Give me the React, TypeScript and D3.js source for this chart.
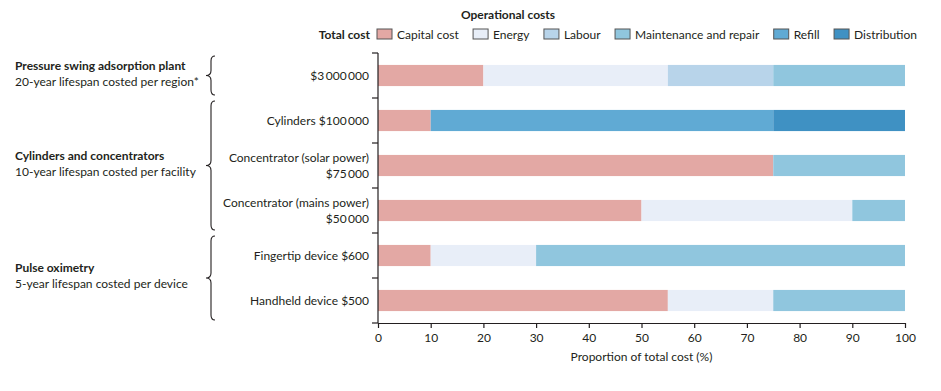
import { useEffect, useRef } from "react";
import * as d3 from "d3";

const categories = [
  ["$3\u2009000\u2009000"],
  ["Cylinders $100\u2009000"],
  ["Concentrator (solar power)", "$75\u2009000"],
  ["Concentrator (mains power)", "$50\u2009000"],
  ["Fingertip device $600"],
  ["Handheld device $500"],
];

const seriesNames = ["Capital cost", "Energy", "Labour", "Maintenance and repair", "Refill", "Distribution"];
const seriesColors = ["#e3a8a4", "#e8eef8", "#b8d4ea", "#90c6de", "#60aad4", "#3f91c3"];

// percentage share of each cost per row
const capital = [20, 10, 75, 50, 10, 55];
const energy = [35, 0, 0, 40, 20, 20];
const labour = [20, 0, 0, 0, 0, 0];
const maintenance = [25, 0, 25, 10, 70, 25];
const refill = [0, 65, 0, 0, 0, 0];
const distribution = [0, 25, 0, 0, 0, 0];

const xTicks = [0, 10, 20, 30, 40, 50, 60, 70, 80, 90, 100];

const groups = [
  { title: "Pressure swing adsorption plant", sub: "20-year lifespan costed per region*", from: 0, to: 0 },
  { title: "Cylinders and concentrators", sub: "10-year lifespan costed per facility", from: 1, to: 3 },
  { title: "Pulse oximetry", sub: "5-year lifespan costed per device", from: 4, to: 5 },
];

const App = () => {
  const svgRef = useRef(null);
  const width = 941;
  const height = 391;

  useEffect(() => {
    const svg = d3.select(svgRef.current);
    svg.selectAll("*").remove();
    const font = "Lato, 'Open Sans', sans-serif";
    const ink = "#231f20";

    const x = d3.scaleLinear().domain([0, 100]).range([378, 905]);
    const y = d3.scaleBand<number>()
      .domain(d3.range(categories.length))
      .range([53, 323])
      .paddingInner(0.53)
      .paddingOuter(0.265);

    const rows = categories.map((_, i) => ({
      [seriesNames[0]]: capital[i],
      [seriesNames[1]]: energy[i],
      [seriesNames[2]]: labour[i],
      [seriesNames[3]]: maintenance[i],
      [seriesNames[4]]: refill[i],
      [seriesNames[5]]: distribution[i],
    }));
    const stacked = d3.stack().keys(seriesNames)(rows as any);

    const g = svg.append("g");
    stacked.forEach((layer, k) => {
      g.append("g")
        .selectAll("rect")
        .data(layer.map((d, i) => ({ d, i })).filter(e => e.d[1] - e.d[0] > 0))
        .enter()
        .append("rect")
        .attr("x", e => x(e.d[0]))
        .attr("width", e => x(e.d[1]) - x(e.d[0]))
        .attr("y", e => y(e.i)!)
        .attr("height", y.bandwidth())
        .attr("fill", seriesColors[k]);
    });

    // y axis, ticks sit on the band boundaries
    const step = y.step();
    const yAxis = svg.append("g");
    yAxis.append("line")
      .attr("x1", 378).attr("x2", 378)
      .attr("y1", 53).attr("y2", 323)
      .attr("stroke", ink).attr("stroke-width", 1.2);
    d3.range(categories.length + 1).forEach(i => {
      const yy = 53 + i * step;
      yAxis.append("line")
        .attr("x1", 372).attr("x2", 378)
        .attr("y1", yy).attr("y2", yy)
        .attr("stroke", ink).attr("stroke-width", 1.2);
    });

    categories.forEach((lines, i) => {
      const cy = y(i)! + y.bandwidth() / 2;
      const t = svg.append("text")
        .attr("text-anchor", "end")
        .attr("font-family", font)
        .attr("font-size", 12)
        .attr("fill", ink);
      lines.forEach((ln, j) => {
        t.append("tspan")
          .attr("x", 369)
          .attr("y", cy + 4 + (j - (lines.length - 1) / 2) * 16)
          .text(ln);
      });
    });

    // x axis
    const xAxis = svg.append("g").attr("transform", "translate(0,323)")
      .call(d3.axisBottom(x).tickValues(xTicks).tickSize(5).tickSizeOuter(0));
    xAxis.select(".domain").attr("stroke", ink).attr("stroke-width", 1.2);
    xAxis.selectAll(".tick line").attr("stroke", ink).attr("stroke-width", 1.2);
    xAxis.selectAll(".tick text")
      .attr("font-family", font).attr("font-size", 12).attr("fill", ink).attr("dy", "0.9em");

    svg.append("text")
      .attr("x", (x(0) + x(100)) / 2).attr("y", 361)
      .attr("text-anchor", "middle")
      .attr("font-family", font).attr("font-size", 12).attr("fill", ink)
      .text("Proportion of total cost (%)");

    // group braces and labels
    groups.forEach(gr => {
      const y0 = 53 + gr.from * step + 3;
      const y1 = 53 + (gr.to + 1) * step - 3;
      const ym = (y0 + y1) / 2;
      const bx = 211;
      const p = `M${bx + 4},${y0} Q${bx},${y0} ${bx},${y0 + 5} L${bx},${ym - 5} Q${bx},${ym} ${bx - 5},${ym} Q${bx},${ym} ${bx},${ym + 5} L${bx},${y1 - 5} Q${bx},${y1} ${bx + 4},${y1}`;
      svg.append("path").attr("d", p).attr("fill", "none").attr("stroke", ink).attr("stroke-width", 1.1);
      svg.append("text")
        .attr("x", 15).attr("y", ym - 6)
        .attr("font-family", font).attr("font-size", 12).attr("font-weight", "bold").attr("fill", ink)
        .text(gr.title);
      svg.append("text")
        .attr("x", 15).attr("y", ym + 10)
        .attr("font-family", font).attr("font-size", 12).attr("fill", ink)
        .text(gr.sub);
    });

    // legend
    svg.append("text")
      .attr("x", 508).attr("y", 19)
      .attr("text-anchor", "middle")
      .attr("font-family", font).attr("font-size", 12).attr("font-weight", "bold").attr("fill", ink)
      .text("Operational costs");
    svg.append("text")
      .attr("x", 370).attr("y", 39)
      .attr("text-anchor", "end")
      .attr("font-family", font).attr("font-size", 12).attr("font-weight", "bold").attr("fill", ink)
      .text("Total cost");

    const legStart = 377;
    const legEnd = 917;
    const items = seriesNames.map((name, k) => {
      const sw = svg.append("rect")
        .attr("y", 29)
        .attr("width", 15).attr("height", 10)
        .attr("fill", seriesColors[k])
        .attr("stroke", "#555").attr("stroke-width", 1);
      const tx = svg.append("text")
        .attr("y", 39)
        .attr("font-family", font).attr("font-size", 12).attr("fill", ink)
        .text(name);
      const w = (tx.node() as SVGTextElement).getComputedTextLength();
      return { sw, tx, w: 20 + w };
    });
    const total = d3.sum(items, d => d.w);
    const gap = (legEnd - legStart - total) / (items.length - 1);
    let cx = legStart;
    items.forEach(it => {
      it.sw.attr("x", cx);
      it.tx.attr("x", cx + 20);
      cx += it.w + gap;
    });
  }, []);

  return <svg ref={svgRef} width={width} height={height} style={{ display: "block", margin: "-8px" }}></svg>;
};

export default App;
